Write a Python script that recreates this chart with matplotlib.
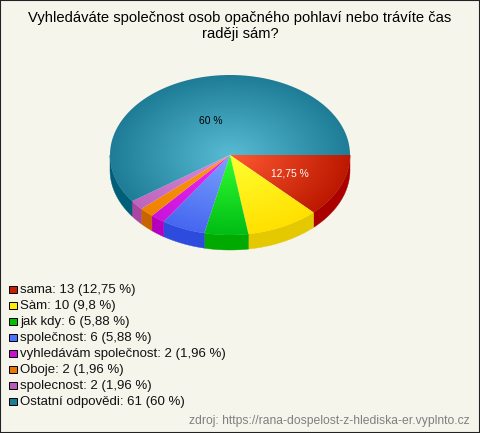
import numpy as np
import matplotlib
matplotlib.use('Agg')
import matplotlib.pyplot as plt
from matplotlib.patches import Polygon, Rectangle

plt.rcParams['font.family'] = ['Liberation Sans', 'DejaVu Sans']

title = 'Vyhledáváte společnost osob opačného pohlaví nebo trávíte čas\nraději sám?'
categories = ['sama', 'Sàm', 'jak kdy', 'společnost', 'vyhledávám společnost',
              'Oboje', 'spolecnost', 'Ostatní odpovědi']
counts = [13, 10, 6, 6, 2, 2, 2, 61]
percents = ['12,75', '9,8', '5,88', '5,88', '1,96', '1,96', '1,96', '60']
inner_colors = ['#ff5a32', '#ffff32', '#32ff32', '#7aa2ff', '#f02cf0', '#ff9a14', '#dc8cdc', '#58bcd4']
outer_colors = ['#bc1800', '#ffe000', '#00bc14', '#4666f0', '#c814dc', '#f08200', '#be64be', '#1e7c96']
side_colors = ['#aa0000', '#e4c800', '#00aa00', '#2d4bdc', '#b400be', '#c86400', '#aa46a0', '#005f78']
legend_colors = ['#c81e00', '#ffee00', '#00c000', '#4c70ff', '#c810d0', '#e87800', '#b85cb8', '#1e7c96']
source = 'zdroj: https://rana-dospelost-z-hlediska-er.vyplnto.cz'

BG = '#f5f5ec'
cx, cy, rx, ry, depth = 230, 155, 120, 80, 15


def rim(a0, a1, n=80):
    t = np.radians(np.linspace(a0, a1, n))
    return cx + rx * np.cos(t), cy + ry * np.sin(t)


def hex_rgb(c):
    return np.array(matplotlib.colors.to_rgb(c))


fig = plt.figure(figsize=(4.8, 4.33), dpi=100, facecolor=BG)
ax = fig.add_axes([0, 0, 1, 1])
ax.set_xlim(0, 480)
ax.set_ylim(433, 0)
ax.axis('off')

shares = np.array(counts) / sum(counts)
edges = np.concatenate([[0], np.cumsum(shares) * 360])

# pixel grid for the radial shading
xs, ys = np.meshgrid(np.arange(cx - rx - 1, cx + rx + 1, 0.5), np.arange(cy - ry - 1, cy + ry + 1, 0.5))
rad = np.clip(np.hypot((xs - cx) / rx, (ys - cy) / ry), 0, 1)[..., None]
extent = (cx - rx - 1, cx + rx + 1, cy + ry + 1, cy - ry - 1)

# side wall first, only the front half shows
for i in range(len(counts)):
    a0, a1 = edges[i], min(edges[i + 1], 180)
    if a0 >= 180:
        continue
    x, y = rim(a0, a1)
    pts = np.column_stack([np.r_[x, x[::-1]], np.r_[y, y[::-1] + depth]])
    ax.add_patch(Polygon(pts, closed=True, fc=side_colors[i], ec=side_colors[i], lw=0.3, zorder=1))

# top faces
for i in range(len(counts)):
    img = hex_rgb(inner_colors[i]) * (1 - rad) + hex_rgb(outer_colors[i]) * rad
    im = ax.imshow(img, extent=extent, zorder=2, interpolation='bilinear', aspect='auto')
    x, y = rim(edges[i], edges[i + 1], 200)
    pts = np.column_stack([np.r_[cx, x], np.r_[cy, y]])
    patch = Polygon(pts, closed=True, transform=ax.transData, fc='none', ec='none')
    ax.add_patch(patch)
    im.set_clip_path(patch)
ax.set_xlim(0, 480)
ax.set_ylim(433, 0)

ax.text(290, 173, '12,75 %', color='white', fontsize=7.4, ha='center', va='center', zorder=3)
ax.text(210.5, 121, '60 %', color='black', fontsize=7.4, ha='center', va='center', zorder=3)

ax.text(240, 26, title, fontsize=10.6, ha='center', va='center', color='black', linespacing=1.12)

# legend
for i, name in enumerate(categories):
    y = 289.5 + i * 16.0
    ax.add_patch(Rectangle((9, y - 4), 8, 7.5, fc=legend_colors[i], ec='black', lw=0.7))
    ax.text(20, y, f'{name}: {counts[i]} ({percents[i]} %)', fontsize=9.58, va='center', ha='left', color='#111111')

ax.text(470, 421, source, fontsize=8.78, ha='right', va='center', color='#808080')

fig.add_artist(Rectangle((0, 0), 1, 1, transform=fig.transFigure, fc='none', ec='#222222', lw=1.5))

fig.savefig('out.png', dpi=100, facecolor=BG)
